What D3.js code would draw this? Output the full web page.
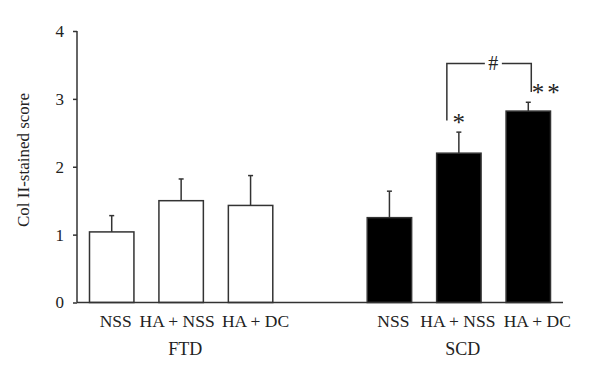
<!DOCTYPE html>
<meta charset="utf-8">
<script src="https://d3js.org/d3.v7.min.js"></script>
<style>
  body { margin: 0; background: #fff; }
  text { font-family: "Liberation Serif", "Times New Roman", serif; fill: #222; }
</style>
<div id="my_dataviz"></div>
<script>

// data
var groups = ["FTD", "SCD"];
var treatments = ["NSS", "HA + NSS", "HA + DC"];
var ftdMeans = [1.04, 1.50, 1.43];
var ftdErrors = [0.24, 0.32, 0.44];
var scdMeans = [1.25, 2.20, 2.82];
var scdErrors = [0.39, 0.31, 0.13];
var yTicks = [0, 1, 2, 3, 4];

// slots along x: three FTD bars, an empty gap, three SCD bars
var slots = ["FTD|0", "FTD|1", "FTD|2", "gap", "SCD|0", "SCD|1", "SCD|2"];

var bars = [];
treatments.forEach(function(t, i) {
  bars.push({group: "FTD", idx: i, slot: "FTD|" + i, label: t, mean: ftdMeans[i], err: ftdErrors[i]});
});
treatments.forEach(function(t, i) {
  bars.push({group: "SCD", idx: i, slot: "SCD|" + i, label: t, mean: scdMeans[i], err: scdErrors[i]});
});

var width = 600, height = 380;

var svg = d3.select("#my_dataviz")
  .append("svg")
    .attr("width", width)
    .attr("height", height);

var x = d3.scaleBand()
  .domain(slots)
  .range([77, 563])
  .paddingInner(0.36)
  .paddingOuter(0.18);

var y = d3.scaleLinear()
  .domain([0, 4])
  .range([302.5, 31]);

var ink = "#333";

// bars
svg.append("g")
  .selectAll("rect")
  .data(bars)
  .enter()
  .append("rect")
    .attr("x", function(d) { return x(d.slot); })
    .attr("y", function(d) { return y(d.mean); })
    .attr("width", x.bandwidth())
    .attr("height", function(d) { return y(0) - y(d.mean); })
    .style("fill", function(d) { return d.group == "FTD" ? "#fff" : "#000"; })
    .style("stroke", ink)
    .style("stroke-width", 1.5);

// error bars (upper only)
var eb = svg.append("g");
eb.selectAll("line.stem")
  .data(bars)
  .enter()
  .append("line")
    .attr("class", "stem")
    .attr("x1", function(d) { return x(d.slot) + x.bandwidth() / 2; })
    .attr("x2", function(d) { return x(d.slot) + x.bandwidth() / 2; })
    .attr("y1", function(d) { return y(d.mean); })
    .attr("y2", function(d) { return y(d.mean + d.err); })
    .style("stroke", ink)
    .style("stroke-width", 1.5);
eb.selectAll("line.cap")
  .data(bars)
  .enter()
  .append("line")
    .attr("class", "cap")
    .attr("x1", function(d) { return x(d.slot) + x.bandwidth() / 2 - 2.5; })
    .attr("x2", function(d) { return x(d.slot) + x.bandwidth() / 2 + 2.5; })
    .attr("y1", function(d) { return y(d.mean + d.err); })
    .attr("y2", function(d) { return y(d.mean + d.err); })
    .style("stroke", ink)
    .style("stroke-width", 1.5);

// Y axis
var yAxis = svg.append("g")
  .attr("transform", "translate(77,0)")
  .call(d3.axisLeft(y).tickValues(yTicks).tickSize(4).tickPadding(9).tickFormat(d3.format("d")));
yAxis.select(".domain").attr("d", "M0," + y(4) + "V" + y(0)).style("stroke", ink).style("stroke-width", 1.5);
yAxis.selectAll(".tick line").style("stroke", ink).style("stroke-width", 1.5);
yAxis.selectAll(".tick text")
  .style("font-family", "Liberation Serif, serif")
  .style("font-size", "17px")
  .style("fill", "#222");

// X axis line
svg.append("line")
  .attr("x1", 77)
  .attr("x2", x.range()[1])
  .attr("y1", y(0))
  .attr("y2", y(0))
  .style("stroke", ink)
  .style("stroke-width", 1.5);

// category labels (set like one line of text under each group, so nudged off-centre a little)
var nudge = {FTD: [4, -4, 5], SCD: [4, -1, 9]};
svg.append("g")
  .selectAll("text")
  .data(bars)
  .enter()
  .append("text")
    .attr("x", function(d) { return x(d.slot) + x.bandwidth() / 2 + nudge[d.group][d.idx]; })
    .attr("y", 327)
    .attr("text-anchor", "middle")
    .style("font-size", "17.5px")
    .text(function(d) { return d.label; });

// group labels
svg.append("g")
  .selectAll("text")
  .data(groups)
  .enter()
  .append("text")
    .attr("x", function(g) { return (x(g + "|0") + x(g + "|2") + x.bandwidth()) / 2 + 4; })
    .attr("y", 355)
    .attr("text-anchor", "middle")
    .style("font-size", "18px")
    .text(function(g) { return g; });

// Y axis label
svg.append("text")
  .attr("transform", "translate(29," + y(2.1) + ") rotate(-90)")
  .attr("text-anchor", "middle")
  .style("font-size", "17px")
  .text("Col II-stained score");

// significance bracket between SCD HA + NSS and SCD HA + DC
var cA = x("SCD|1") + x.bandwidth() / 2,
    cB = x("SCD|2") + x.bandwidth() / 2;
var bx1 = cA - 12, bx2 = cB + 3, by = y(3.52);
var sig = svg.append("g").style("stroke", ink).style("stroke-width", 1.5).style("fill", "none");
sig.append("path")
  .attr("d", "M" + bx1 + "," + y(2.68) + "V" + by + "H" + (bx1 + 38));
sig.append("path")
  .attr("d", "M" + (bx1 + 55) + "," + by + "H" + bx2 + "V" + y(3.10));
svg.append("text")
  .attr("x", bx1 + 46.5)
  .attr("y", by + 6)
  .attr("text-anchor", "middle")
  .style("font-size", "20px")
  .text("#");

svg.append("text")
  .attr("x", cA)
  .attr("y", y(2.74) + 14)
  .attr("text-anchor", "middle")
  .style("font-size", "25px")
  .text("*");
svg.append("text")
  .attr("x", cB + 19)
  .attr("y", y(3.17) + 14)
  .attr("text-anchor", "middle")
  .style("font-size", "25px")
  .style("letter-spacing", "3px")
  .text("**");

</script>
